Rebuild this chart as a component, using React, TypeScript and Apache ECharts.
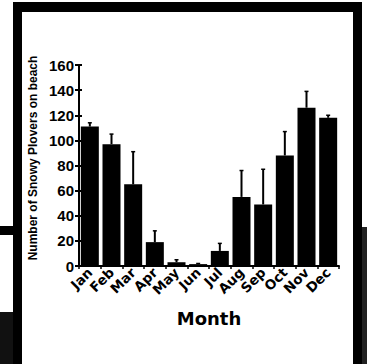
import React, { useEffect, useRef } from "react";
import * as echarts from "echarts";

const months = ["Jan", "Feb", "Mar", "Apr", "May", "Jun", "Jul", "Aug", "Sep", "Oct", "Nov", "Dec"];
const means = [111, 97, 65, 19, 3, 1.5, 12, 55, 49, 88, 126, 118];
const errUpper = [114, 105, 91, 28, 5, 2, 18, 76, 77, 107, 139, 120];
const yTicks = [0, 20, 40, 60, 80, 100, 120, 140, 160];

export default function App() {
  const ref = useRef<HTMLDivElement>(null);
  useEffect(() => {
    const chart = echarts.init(ref.current!, null, { renderer: "svg" });
    const errData = months.map((m, i) => [i, means[i], errUpper[i]]);
    chart.setOption({
      animation: false,
      backgroundColor: "#fff",
      grid: { left: 79, top: 65, right: 28, bottom: 98 },
      graphic: [
        { type: "rect", shape: { x: 13, y: 2, width: 349, height: 10 }, style: { fill: "#000" }, z: 100 },
        { type: "rect", shape: { x: 13, y: 2, width: 9, height: 362 }, style: { fill: "#000" }, z: 100 },
        { type: "rect", shape: { x: 353, y: 2, width: 9, height: 362 }, style: { fill: "#000" }, z: 100 },
        { type: "rect", shape: { x: 0, y: 226, width: 13, height: 9 }, style: { fill: "#000" }, z: 100 },
        { type: "rect", shape: { x: 0, y: 312, width: 13, height: 52 }, style: { fill: "#111" }, z: 100 },
        { type: "rect", shape: { x: 362, y: 227, width: 5, height: 137 }, style: { fill: "#222" }, z: 100 },
        {
          type: "text",
          x: 33,
          y: 158,
          rotation: Math.PI / 2,
          style: {
            text: "Number of Snowy Plovers on beach",
            fontSize: 12,
            fontWeight: "bold",
            fontFamily: "Liberation Sans",
            fill: "#000",
            align: "center",
            verticalAlign: "middle",
          },
          z: 100,
        },
      ],
      xAxis: {
        type: "category",
        data: months,
        name: "Month",
        nameLocation: "middle",
        nameGap: 43,
        nameTextStyle: { fontSize: 18, fontWeight: "bold", fontFamily: "DejaVu Sans", color: "#000" },
        axisLine: { lineStyle: { color: "#000", width: 2 } },
        axisTick: { show: true, length: 3, lineStyle: { color: "#000", width: 1.5 } },
        axisLabel: {
          interval: 0,
          rotate: 45,
          fontSize: 13.5,
          fontWeight: "bold",
          fontFamily: "DejaVu Sans",
          color: "#000",
          margin: 4,
        },
      },
      yAxis: [
        {
          type: "value",
          min: 0,
          max: 160,
          interval: 20,
          axisLine: { show: true, lineStyle: { color: "#000", width: 2 } },
          axisTick: { show: true, length: 4, lineStyle: { color: "#000", width: 2 } },
          splitLine: { show: false },
          axisLabel: {
            fontSize: 15,
            fontWeight: "bold",
            fontFamily: "Liberation Sans",
            color: "#000",
            margin: 5,
            formatter: (v: number) => (yTicks.includes(v) ? String(v) : ""),
          },
        },
        {
          type: "value",
          position: "left",
          min: 0,
          max: 160,
          interval: 20,
          axisLine: { show: false },
          axisTick: { show: true, inside: true, length: 3, lineStyle: { color: "#000", width: 2 } },
          splitLine: { show: false },
          axisLabel: { show: false },
        },
      ],
      series: [
        {
          type: "bar",
          data: means,
          barWidth: 18,
          itemStyle: { color: "#000" },
        },
        {
          type: "custom",
          data: errData,
          z: 5,
          renderItem: (params: any, api: any) => {
            const i = api.value(0);
            const lo = api.coord([i, api.value(1)]);
            const hi = api.coord([i, api.value(2)]);
            return {
              type: "group",
              children: [
                { type: "line", shape: { x1: lo[0], y1: lo[1], x2: hi[0], y2: hi[1] }, style: { stroke: "#000", lineWidth: 2 } },
                { type: "line", shape: { x1: hi[0] - 2, y1: hi[1], x2: hi[0] + 2, y2: hi[1] }, style: { stroke: "#000", lineWidth: 1.5 } },
              ],
            };
          },
        },
      ],
    });
    return () => chart.dispose();
  }, []);
  return <div ref={ref} style={{ width: 367, height: 364, position: "absolute", left: 0, top: 0 }} />;
}
